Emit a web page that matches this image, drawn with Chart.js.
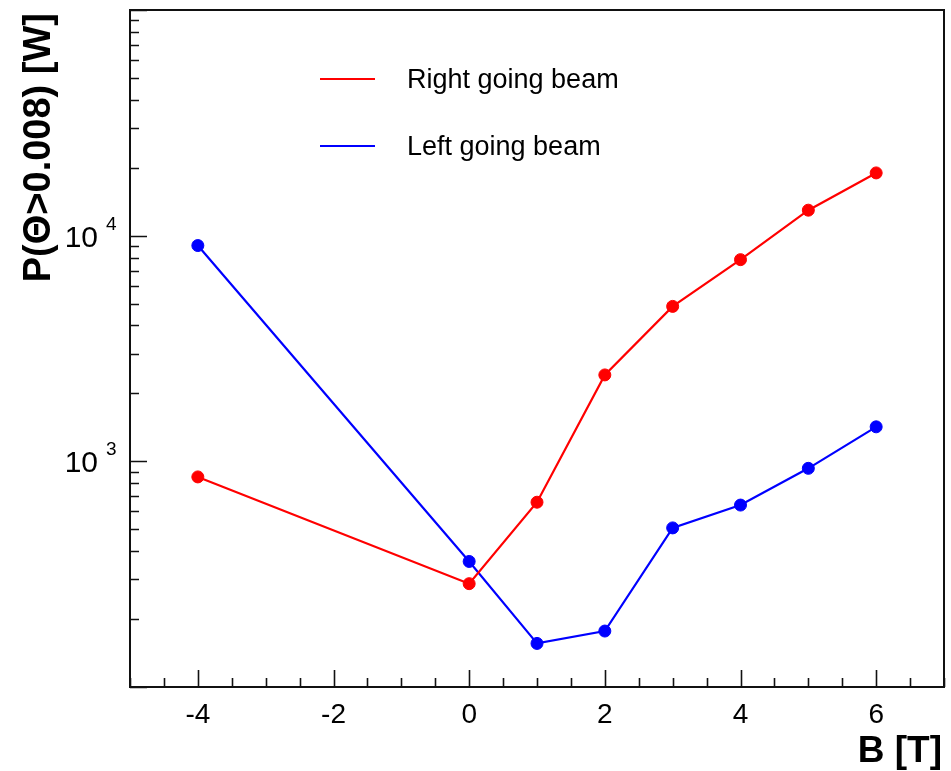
<!DOCTYPE html>
<html>
<head>
<meta charset="utf-8">
<script src="https://cdn.jsdelivr.net/npm/chart.js@4.4.1/dist/chart.umd.min.js"></script>
<style>
  body { margin: 0; background: #fff; }
  #wrap { width: 951px; height: 771px; }
</style>
</head>
<body>
<div id="wrap"><canvas id="beamChart" width="951" height="771"></canvas></div>
<script>
// values
const bField = [-4, 0, 1, 2, 3, 4, 5, 6];
const rightBeam = [853, 287, 659, 2415, 4860, 7830, 12970, 18970];
const leftBeam = [9040, 360, 156, 177, 507, 640, 931, 1422];
const xTickLabels = [-4, -2, 0, 2, 4, 6];
const yDecades = [1000, 10000];
const seriesNames = ["Right going beam", "Left going beam"];

const FONT = "'Liberation Sans', Arial, Helvetica, sans-serif";

// ROOT-like frame with ticks pointing inside, labels and legend
const rootFrame = {
  id: "rootFrame",
  afterDraw(chart) {
    const ctx = chart.ctx;
    const { left, right, top, bottom } = chart.chartArea;
    const xs = chart.scales.x, ys = chart.scales.y;
    ctx.save();
    ctx.strokeStyle = "#111";
    ctx.lineWidth = 2;
    ctx.strokeRect(left, top, right - left, bottom - top);

    // x ticks
    ctx.lineWidth = 1.6;
    ctx.beginPath();
    for (let v = xs.min; v <= xs.max + 1e-9; v += 0.5) {
      const px = Math.round(xs.getPixelForValue(v)) + 0.5;
      const len = (v % 2 === 0) ? 17 : 9;
      ctx.moveTo(px, bottom);
      ctx.lineTo(px, bottom - len);
    }
    // y ticks
    for (let d = 100; d <= 100000; d *= 10) {
      for (let m = 1; m <= 9; m++) {
        const v = m * d;
        if (v < ys.min || v > ys.max) continue;
        const py = Math.round(ys.getPixelForValue(v)) + 0.5;
        const len = (m === 1) ? 17 : 9;
        ctx.moveTo(left, py);
        ctx.lineTo(left + len, py);
      }
    }
    ctx.stroke();

    // x labels
    ctx.fillStyle = "#000";
    ctx.font = "28px " + FONT;
    ctx.textAlign = "center";
    ctx.textBaseline = "alphabetic";
    xTickLabels.forEach(v => {
      ctx.fillText(String(v), xs.getPixelForValue(v), 723);
    });

    // y labels 10^n
    yDecades.forEach(v => {
      const py = ys.getPixelForValue(v);
      ctx.font = "30px " + FONT;
      ctx.textAlign = "right";
      ctx.fillText("10", 98, py + 11);
      ctx.font = "19px " + FONT;
      ctx.textAlign = "left";
      ctx.fillText(String(Math.round(Math.log10(v))), 106, py - 6);
    });

    // axis titles
    ctx.font = "bold 37px " + FONT;
    ctx.textAlign = "right";
    ctx.fillText("B [T]", 942, 762);

    ctx.save();
    ctx.translate(50, 13);
    ctx.rotate(-Math.PI / 2);
    ctx.font = "bold 38px " + FONT;
    ctx.textAlign = "right";
    ctx.fillText("P(\u0398>0.008) [W]", 0, 0);
    ctx.restore();

    // legend
    const legY = [79, 146];
    chart.data.datasets.forEach((ds, i) => {
      ctx.strokeStyle = ds.borderColor;
      ctx.lineWidth = 2;
      ctx.beginPath();
      ctx.moveTo(320, legY[i]);
      ctx.lineTo(375, legY[i]);
      ctx.stroke();
      ctx.fillStyle = "#000";
      ctx.font = "27px " + FONT;
      ctx.textAlign = "left";
      ctx.fillText(ds.label, 407, legY[i] + 9);
    });
    ctx.restore();
  }
};

new Chart(document.getElementById("beamChart"), {
  type: "line",
  data: {
    datasets: [
      {
        label: seriesNames[0],
        data: bField.map((b, i) => ({ x: b, y: rightBeam[i] })),
        borderColor: "#ff0000",
        backgroundColor: "#ff0000",
        borderWidth: 2.2,
        pointRadius: 6,
        pointBorderWidth: 1,
        tension: 0
      },
      {
        label: seriesNames[1],
        data: bField.map((b, i) => ({ x: b, y: leftBeam[i] })),
        borderColor: "#0000ff",
        backgroundColor: "#0000ff",
        borderWidth: 2.2,
        pointRadius: 6,
        pointBorderWidth: 1,
        tension: 0
      }
    ]
  },
  options: {
    responsive: false,
    animation: false,
    layout: { padding: { left: 130, right: 6, top: 10, bottom: 84 } },
    plugins: {
      legend: { display: false },
      tooltip: { enabled: false }
    },
    scales: {
      x: { type: "linear", min: -5, max: 7, display: false },
      y: { type: "logarithmic", min: 100, max: 100000, display: false }
    }
  },
  plugins: [rootFrame]
});
</script>
</body>
</html>
